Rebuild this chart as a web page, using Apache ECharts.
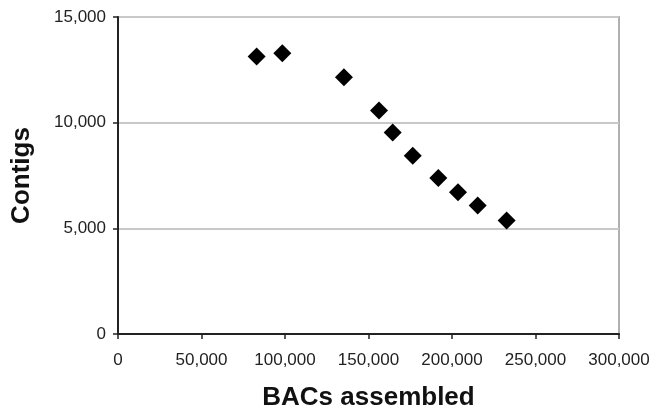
<!DOCTYPE html>
<html>
<head>
<meta charset="utf-8">
<script src="https://cdn.jsdelivr.net/npm/echarts@6/dist/echarts.min.js"></script>
<style>html,body{margin:0;padding:0;background:#fff;}#chart{width:655px;height:410px;}</style>
</head>
<body>
<div id="chart"></div>
<script>
var bacsAssembled = [83000, 98400, 135300, 156300, 164500, 176500, 191800, 203600, 215400, 232700];
var contigs = [13130, 13290, 12150, 10580, 9530, 8430, 7380, 6710, 6080, 5370];
var xTicks = [0, 50000, 100000, 150000, 200000, 250000, 300000];
var yTicks = [0, 5000, 10000, 15000];

var points = bacsAssembled.map(function (x, i) { return [x, contigs[i]]; });
function fmt(v) { return v.toLocaleString('en-US'); }

var chart = echarts.init(document.getElementById('chart'));
chart.setOption({
  animation: false,
  grid: { left: 118, right: 36, top: 17, bottom: 76, outerBoundsMode: 'none', containLabel: false, show: true, borderColor: '#b0b0b0', borderWidth: 2, backgroundColor: 'transparent' },
  xAxis: {
    type: 'value', min: xTicks[0], max: xTicks[xTicks.length - 1], interval: 50000,
    name: 'BACs assembled', nameLocation: 'middle', nameGap: 51,
    nameTextStyle: { fontFamily: 'Liberation Sans', fontSize: 26, fontWeight: 'bold', color: '#111' },
    axisLine: { show: true, lineStyle: { color: '#222', width: 2 } },
    axisTick: { show: true, length: 5, lineStyle: { color: '#222', width: 1.5 } },
    axisLabel: { fontFamily: 'Liberation Sans', fontSize: 17, color: '#222', margin: 18, formatter: fmt },
    splitLine: { show: false }
  },
  yAxis: {
    type: 'value', min: yTicks[0], max: yTicks[yTicks.length - 1], interval: 5000,
    name: 'Contigs', nameLocation: 'middle', nameGap: 83, nameRotate: 90,
    nameTextStyle: { fontFamily: 'Liberation Sans', fontSize: 26, fontWeight: 'bold', color: '#111' },
    axisLine: { show: true, lineStyle: { color: '#222', width: 2 } },
    axisTick: { show: true, length: 5, lineStyle: { color: '#222', width: 1.5 } },
    axisLabel: { fontFamily: 'Liberation Sans', fontSize: 17, color: '#222', margin: 12, formatter: fmt },
    splitLine: { show: true, lineStyle: { color: '#c8c8c8', width: 2 } }
  },
  series: [{
    type: 'scatter',
    data: points,
    symbol: 'diamond',
    symbolSize: [18, 18],
    itemStyle: { color: '#000', opacity: 1 }
  }]
});
</script>
</body>
</html>
